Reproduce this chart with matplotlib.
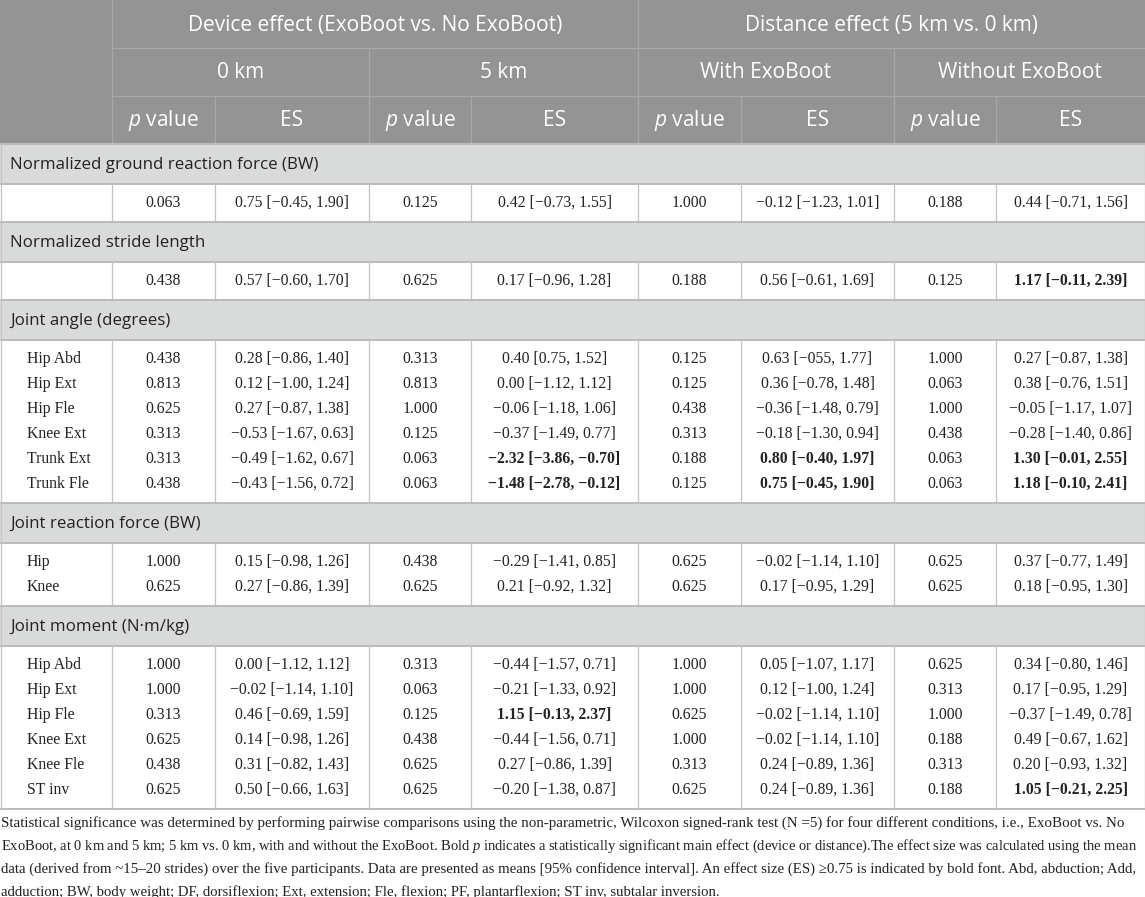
import matplotlib.pyplot as plt
from matplotlib.patches import Rectangle

plt.rcParams['mathtext.fontset'] = 'custom'
plt.rcParams['mathtext.it'] = 'Open Sans:italic'
plt.rcParams['mathtext.sf'] = 'Liberation Serif:italic'

# ---------------- data ----------------
groups = ["Device effect (ExoBoot vs. No ExoBoot)", "Distance effect (5 km vs. 0 km)"]
conditions = ["0 km", "5 km", "With ExoBoot", "Without ExoBoot"]
stat_names = ["$p$ value", "ES"]

sections = ["Normalized ground reaction force (BW)",
            "Normalized stride length",
            "Joint angle (degrees)",
            "Joint reaction force (BW)",
            "Joint moment (N\u00b7m/kg)"]

grf_rows = [""]
grf_p = [[0.063, 0.125, 1.000, 0.188]]
grf_es = [["0.75 [−0.45, 1.90]", "0.42 [−0.73, 1.55]", "−0.12 [−1.23, 1.01]", "0.44 [−0.71, 1.56]"]]
grf_bold = [[]]

stride_rows = [""]
stride_p = [[0.438, 0.625, 0.188, 0.125]]
stride_es = [["0.57 [−0.60, 1.70]", "0.17 [−0.96, 1.28]", "0.56 [−0.61, 1.69]", "1.17 [−0.11, 2.39]"]]
stride_bold = [[3]]

angle_rows = ["Hip Abd", "Hip Ext", "Hip Fle", "Knee Ext", "Trunk Ext", "Trunk Fle"]
angle_p = [[0.438, 0.313, 0.125, 1.000],
           [0.813, 0.813, 0.125, 0.063],
           [0.625, 1.000, 0.438, 1.000],
           [0.313, 0.125, 0.313, 0.438],
           [0.313, 0.063, 0.188, 0.063],
           [0.438, 0.063, 0.125, 0.063]]
angle_es = [["0.28 [−0.86, 1.40]", "0.40 [0.75, 1.52]", "0.63 [−055, 1.77]", "0.27 [−0.87, 1.38]"],
            ["0.12 [−1.00, 1.24]", "0.00 [−1.12, 1.12]", "0.36 [−0.78, 1.48]", "0.38 [−0.76, 1.51]"],
            ["0.27 [−0.87, 1.38]", "−0.06 [−1.18, 1.06]", "−0.36 [−1.48, 0.79]", "−0.05 [−1.17, 1.07]"],
            ["−0.53 [−1.67, 0.63]", "−0.37 [−1.49, 0.77]", "−0.18 [−1.30, 0.94]", "−0.28 [−1.40, 0.86]"],
            ["−0.49 [−1.62, 0.67]", "−2.32 [−3.86, −0.70]", "0.80 [−0.40, 1.97]", "1.30 [−0.01, 2.55]"],
            ["−0.43 [−1.56, 0.72]", "−1.48 [−2.78, −0.12]", "0.75 [−0.45, 1.90]", "1.18 [−0.10, 2.41]"]]
angle_bold = [[], [], [], [], [1, 2, 3], [1, 2, 3]]

jrf_rows = ["Hip", "Knee"]
jrf_p = [[1.000, 0.438, 0.625, 0.625],
         [0.625, 0.625, 0.625, 0.625]]
jrf_es = [["0.15 [−0.98, 1.26]", "−0.29 [−1.41, 0.85]", "−0.02 [−1.14, 1.10]", "0.37 [−0.77, 1.49]"],
          ["0.27 [−0.86, 1.39]", "0.21 [−0.92, 1.32]", "0.17 [−0.95, 1.29]", "0.18 [−0.95, 1.30]"]]
jrf_bold = [[], []]

moment_rows = ["Hip Abd", "Hip Ext", "Hip Fle", "Knee Ext", "Knee Fle", "ST inv"]
moment_p = [[1.000, 0.313, 1.000, 0.625],
            [1.000, 0.063, 1.000, 0.313],
            [0.313, 0.125, 0.625, 1.000],
            [0.625, 0.438, 1.000, 0.188],
            [0.438, 0.625, 0.313, 0.313],
            [0.625, 0.625, 0.625, 0.188]]
moment_es = [["0.00 [−1.12, 1.12]", "−0.44 [−1.57, 0.71]", "0.05 [−1.07, 1.17]", "0.34 [−0.80, 1.46]"],
             ["−0.02 [−1.14, 1.10]", "−0.21 [−1.33, 0.92]", "0.12 [−1.00, 1.24]", "0.17 [−0.95, 1.29]"],
             ["0.46 [−0.69, 1.59]", "1.15 [−0.13, 2.37]", "−0.02 [−1.14, 1.10]", "−0.37 [−1.49, 0.78]"],
             ["0.14 [−0.98, 1.26]", "−0.44 [−1.56, 0.71]", "−0.02 [−1.14, 1.10]", "0.49 [−0.67, 1.62]"],
             ["0.31 [−0.82, 1.43]", "0.27 [−0.86, 1.39]", "0.24 [−0.89, 1.36]", "0.20 [−0.93, 1.32]"],
             ["0.50 [−0.66, 1.63]", "−0.20 [−1.38, 0.87]", "0.24 [−0.89, 1.36]", "1.05 [−0.21, 2.25]"]]
moment_bold = [[], [], [1], [], [], [3]]

blocks = [(grf_rows, grf_p, grf_es, grf_bold),
          (stride_rows, stride_p, stride_es, stride_bold),
          (angle_rows, angle_p, angle_es, angle_bold),
          (jrf_rows, jrf_p, jrf_es, jrf_bold),
          (moment_rows, moment_p, moment_es, moment_bold)]

footnote = [
    "Statistical significance was determined by performing pairwise comparisons using the non-parametric, Wilcoxon signed-rank test (N =5) for four different conditions, i.e., ExoBoot vs. No",
    "ExoBoot, at 0 km and 5 km; 5 km vs. 0 km, with and without the ExoBoot. Bold $\\mathsf{p}$ indicates a statistically significant main effect (device or distance).The effect size was calculated using the mean",
    "data (derived from ~15–20 strides) over the five participants. Data are presented as means [95% confidence interval]. An effect size (ES) ≥0.75 is indicated by bold font. Abd, abduction; Add,",
    "adduction; BW, body weight; DF, dorsiflexion; Ext, extension; Fle, flexion; PF, plantarflexion; ST inv, subtalar inversion.",
]
# right end of each footnote line in the reference (last one is not justified)
foot_ends = [1127, 1134, 1136, None]

# ---------------- layout ----------------
W, H = 1145, 897
col_edges = [0, 112, 215, 369, 471, 638, 741, 894, 996, 1145]
head_h = 48
sec_h = 40
row_h = 25
pad = 6.5

head_bg = '#949494'
head_line = '#a8a8a8'
sec_bg = '#d9dbda'
grid = '#c4c4c4'
txt = '#222222'

fig = plt.figure(figsize=(W / 100, H / 100), dpi=100)
ax = fig.add_axes([0, 0, 1, 1])
ax.set_xlim(0, W)
ax.set_ylim(H, 0)
ax.axis('off')

px = 0.72  # one pixel in points

# header
ax.add_patch(Rectangle((0, 0), W, 3 * head_h, facecolor=head_bg, edgecolor='none'))
hfont = dict(family='Open Sans', size=15, color='white', ha='center', va='center')
for g, name in enumerate(groups):
    x0, x1 = col_edges[1 + 4 * g], col_edges[5 + 4 * g]
    ax.text((x0 + x1) / 2, head_h / 2 + 1.5, name, **hfont)
for c, name in enumerate(conditions):
    x0, x1 = col_edges[1 + 2 * c], col_edges[3 + 2 * c]
    ax.text((x0 + x1) / 2, 1.5 * head_h + 0.5, name, **hfont)
for k in range(8):
    x0, x1 = col_edges[1 + k], col_edges[2 + k]
    ax.text((x0 + x1) / 2, 2.5 * head_h + 0.5, stat_names[k % 2], **hfont)

# header grid lines
for yy in (head_h, 2 * head_h):
    ax.plot([col_edges[1], W], [yy, yy], color=head_line, lw=1.2 * px)
ax.plot([col_edges[1]] * 2, [0, 3 * head_h], color=head_line, lw=1.2 * px)
ax.plot([col_edges[5]] * 2, [0, 3 * head_h], color=head_line, lw=1.2 * px)
for e in (col_edges[3], col_edges[7]):
    ax.plot([e, e], [head_h, 3 * head_h], color=head_line, lw=1.2 * px)
for e in col_edges[2:-1]:
    ax.plot([e, e], [2 * head_h, 3 * head_h], color=head_line, lw=1.2 * px)

# body
dfont = dict(family='Liberation Serif', size=11.3, color=txt, va='center')
y = 3 * head_h
for title, (labels, pvals, es, bold) in zip(sections, blocks):
    ax.add_patch(Rectangle((0, y), W, sec_h, facecolor=sec_bg, edgecolor='none'))
    ax.text(10, y + sec_h / 2 + 1, title, family='Open Sans', size=12.2, color=txt,
            ha='left', va='center')
    ax.plot([0, W], [y, y], color='#bcbcbc', lw=2 * px)
    y += sec_h
    ax.plot([0, W], [y, y], color='#bcbcbc', lw=2 * px)
    block_h = 2 * pad + row_h * len(labels)
    for e in col_edges[1:-1]:
        ax.plot([e, e], [y, y + block_h], color=grid, lw=1.3 * px)
    for i, lab in enumerate(labels):
        yc = y + pad + (i + 0.5) * row_h
        ax.text(27, yc, lab, ha='left', **dfont)
        for c in range(4):
            xp = (col_edges[1 + 2 * c] + col_edges[2 + 2 * c]) / 2
            xe = (col_edges[2 + 2 * c] + col_edges[3 + 2 * c]) / 2
            ax.text(xp, yc, f"{pvals[i][c]:.3f}", ha='center', **dfont)
            ax.text(xe, yc, es[i][c], ha='center',
                    weight='bold' if c in bold[i] else 'normal', **dfont)
    y += block_h
ax.plot([0, W], [y, y], color='#bcbcbc', lw=2 * px)
ax.plot([0.5, 0.5], [3 * head_h, y], color=grid, lw=1.3 * px)
ax.plot([W - 0.5, W - 0.5], [3 * head_h, y], color=grid, lw=1.3 * px)

# footnote: each justified line is sized to end where the reference line ends
fig.canvas.draw()
renderer = fig.canvas.get_renderer()
sizes = []
for line, end in zip(footnote, foot_ends):
    if end is None:
        sizes.append(sum(sizes) / len(sizes))
        continue
    probe = ax.text(0, 0, line, family='Liberation Serif', size=10)
    wpx = probe.get_window_extent(renderer).width
    probe.remove()
    sizes.append(10 * (end - 1) / wpx)
for i, (line, fs) in enumerate(zip(footnote, sizes)):
    ax.text(1, y + 14 + i * 23, line, family='Liberation Serif', size=fs,
            color=txt, ha='left', va='center')

fig.savefig('out.png', dpi=100)
